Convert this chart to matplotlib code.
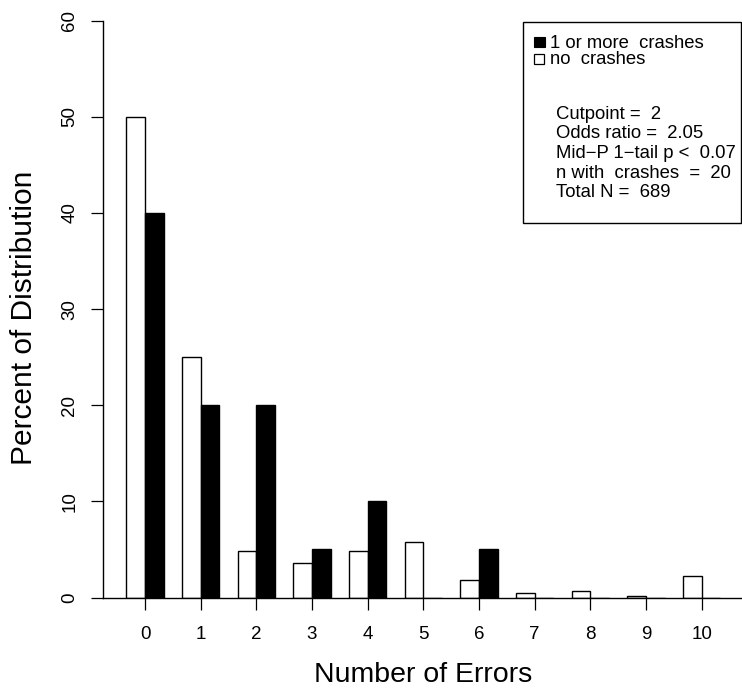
import numpy as np
import matplotlib
matplotlib.use("Agg")
import matplotlib.pyplot as plt
from matplotlib.patches import Rectangle

plt.rcParams['font.family'] = ['Liberation Sans', 'DejaVu Sans']

# data
errors = np.arange(11)
no_crash = [50, 25, 4.85, 3.6, 4.85, 5.8, 1.8, 0.45, 0.7, 0.2, 2.2]
crash = [40, 20, 20, 5, 10, 0, 5, 0, 0, 0, 0]
legend_labels = ['1 or more  crashes', 'no  crashes']
stats_lines = ['Cutpoint =  2',
               'Odds ratio =  2.05',
               'Mid\u2212P 1\u2212tail p <  0.07',
               'n with  crashes  =  20',
               'Total N =  689']

W, H = 742, 688
fig = plt.figure(figsize=(W / 100, H / 100), dpi=100)


def fx(px):
    return px / W


def fy(py):
    return 1 - py / H


ax = fig.add_axes([fx(102.7), fy(597.5), (744 - 102.7) / W, (597.5 - 20.7) / H])

bw = 1 / 3
ax.bar(errors - bw / 2, no_crash, width=bw, color='white', edgecolor='black', linewidth=1.0)
ax.bar(errors + bw / 2, crash, width=bw, color='black', edgecolor='black', linewidth=1.0)

ax.set_xlim(-0.76, 10.76)
ax.set_ylim(0, 60)
ax.set_xticks(errors)
ax.set_xticklabels([str(e) for e in errors], fontsize=13.5)
ax.set_yticks([0, 10, 20, 30, 40, 50, 60])
ax.set_yticklabels(['0', '10', '20', '30', '40', '50', '60'], fontsize=13.5,
                   rotation=90, va='center')
ax.tick_params(axis='both', direction='out', length=8.6, width=0.9)
ax.tick_params(axis='x', pad=12)
ax.tick_params(axis='y', pad=9)

ax.spines['top'].set_visible(False)
ax.spines['right'].set_visible(False)
ax.spines['bottom'].set_linewidth(1.0)
ax.spines['left'].set_linewidth(1.0)

# axis titles
fig.text(fx(423), fy(682.5), 'Number of Errors', fontsize=20.5, ha='center', va='baseline')
fig.text(fx(32.3), fy(318), 'Percent of Distribution', fontsize=21.5, rotation=90,
         ha='center', va='baseline', rotation_mode='anchor')

# legend box
fig.add_artist(Rectangle((fx(522.7), fy(223.3)), (741 - 522.7) / W, (223.3 - 22) / H,
                         transform=fig.transFigure, fill=False, edgecolor='black', linewidth=1.0))
fig.add_artist(Rectangle((fx(534), fy(47.3)), 10.5 / W, 10.5 / H, transform=fig.transFigure,
                         facecolor='black', edgecolor='black', linewidth=0.8))
fig.add_artist(Rectangle((fx(534), fy(64.3)), 10 / W, 10 / H, transform=fig.transFigure,
                         facecolor='white', edgecolor='black', linewidth=0.9))
for lab, yb in zip(legend_labels, [48.3, 64.3]):
    fig.text(fx(550.5), fy(yb), lab, fontsize=13.3, ha='left', va='baseline')

for i, line in enumerate(stats_lines):
    fig.text(fx(555.5), fy(119 + 19.5 * i), line, fontsize=13.3, ha='left', va='baseline')

plt.savefig('out.png', dpi=100)
